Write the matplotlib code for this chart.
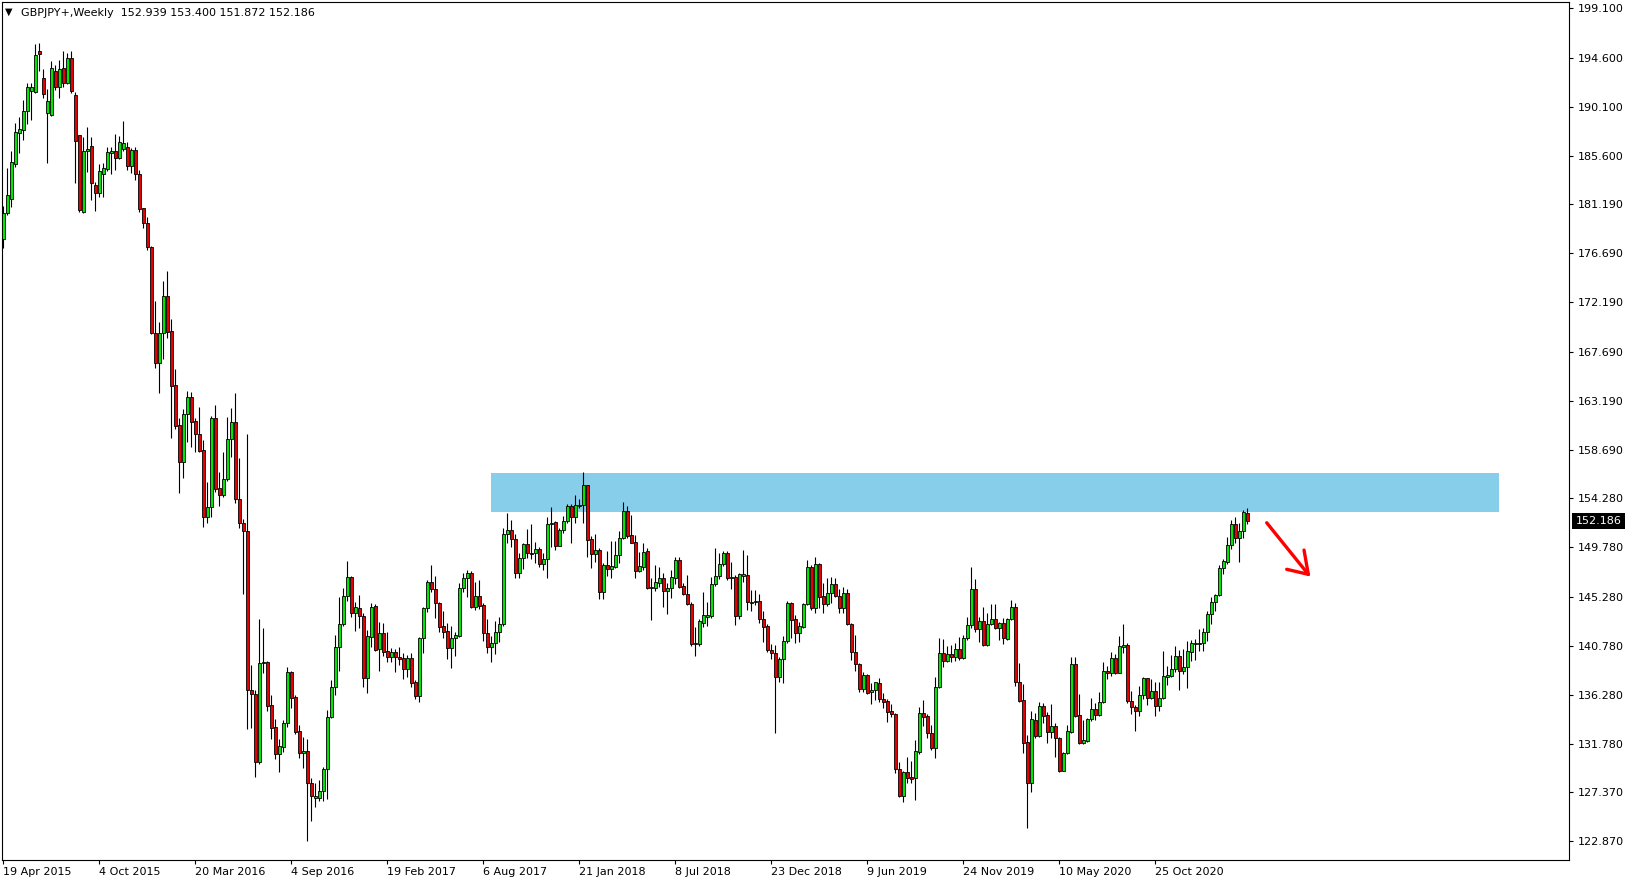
import matplotlib
matplotlib.use('Agg')
import matplotlib.pyplot as plt
import matplotlib.transforms as mtransforms
from matplotlib.patches import Rectangle

# ---------------- data (GBPJPY weekly candles) ----------------
opens = [
    177.96, 180.40, 181.62, 184.82, 187.66, 187.97, 189.73, 191.57, 191.47, 195.19,
    192.69, 189.49, 189.31, 193.36, 191.93, 193.61, 192.24, 194.52, 191.17, 187.48,
    180.49, 186.01, 186.47, 182.93, 182.23, 183.94, 184.37, 185.89, 186.04, 185.43,
    186.20, 186.38, 184.70, 186.14, 183.91, 180.80, 179.43, 177.29, 169.42, 166.62,
    169.36, 172.78, 169.57, 164.60, 160.97, 157.56, 161.95, 163.50, 161.34, 160.15,
    158.69, 152.59, 153.50, 161.58, 155.18, 154.57, 156.00, 159.66, 161.28, 154.17,
    152.04, 151.30, 136.73, 136.33, 130.17, 139.23, 139.32, 135.35, 133.31, 130.84,
    131.54, 133.68, 138.40, 136.05, 132.97, 130.93, 131.14, 128.18, 126.87, 126.87,
    127.51, 129.47, 134.29, 136.97, 140.69, 142.73, 145.33, 147.10, 143.80, 144.26,
    143.53, 137.86, 141.61, 144.41, 140.45, 141.91, 140.30, 139.78, 140.17, 139.72,
    139.63, 138.62, 139.63, 137.43, 136.21, 141.46, 144.20, 146.58, 145.97, 144.66,
    142.58, 142.13, 140.54, 141.46, 141.70, 146.03, 146.95, 147.40, 144.35, 145.33,
    144.50, 141.91, 140.63, 140.99, 142.06, 142.73, 151.00, 151.37, 150.51, 147.40,
    148.77, 150.05, 149.29, 149.23, 149.60, 148.22, 148.68, 151.88, 152.07, 149.93,
    151.37, 152.19, 153.56, 152.59, 153.59, 153.65, 155.48, 150.51, 149.14, 149.54,
    145.72, 148.16, 147.77, 148.01, 149.08, 150.60, 153.11, 150.91, 150.24, 147.65,
    148.01, 149.45, 146.09, 146.09, 146.55, 146.95, 145.82, 146.03, 147.01, 148.62,
    146.24, 145.48, 144.60, 140.91, 140.91, 142.89, 143.44, 143.50, 146.40, 147.16,
    148.26, 149.23, 146.95, 147.10, 143.53, 147.19, 147.25, 144.72, 144.75, 144.87,
    143.22, 142.58, 140.39, 140.08, 137.95, 139.53, 141.21, 144.72, 143.19, 141.97,
    142.52, 144.59, 147.95, 144.26, 148.22, 145.33, 144.56, 145.57, 146.39, 145.33,
    144.20, 145.57, 142.76, 140.17, 139.07, 136.79, 138.10, 136.55, 136.73, 137.34,
    135.87, 135.72, 134.80, 134.53, 129.47, 127.06, 129.19, 128.73, 128.70, 131.08,
    134.59, 134.35, 132.76, 131.39, 136.97, 140.08, 139.41, 139.99, 139.71, 140.45,
    139.62, 141.45, 142.67, 145.94, 142.28, 143.07, 140.84, 142.73, 143.19, 142.37,
    142.83, 141.39, 143.19, 144.29, 137.43, 135.81, 131.94, 128.19, 133.98, 132.52,
    135.26, 134.44, 132.91, 133.43, 132.30, 129.34, 130.93, 132.91, 139.11, 134.44,
    131.91, 132.09, 134.04, 134.99, 134.44, 135.60, 138.46, 138.25, 139.62, 138.31,
    140.69, 140.85, 135.75, 135.14, 134.84, 136.27, 137.80, 135.97, 136.64, 135.29,
    135.97, 137.95, 138.04, 138.65, 139.84, 138.50, 138.80, 140.24, 140.91, 140.91,
    141.00, 142.00, 143.65, 144.75, 145.42, 147.86, 148.47, 149.99, 151.89, 150.67,
    151.28, 152.939,
]
highs = [
    181.01, 184.46, 186.07, 188.58, 189.12, 190.71, 192.24, 192.30, 195.83, 195.90,
    193.52, 191.69, 194.31, 193.91, 194.37, 195.22, 195.04, 195.22, 191.47, 187.48,
    187.29, 188.27, 187.29, 183.24, 184.85, 184.92, 186.38, 186.38, 187.60, 187.42,
    188.82, 186.90, 186.29, 186.38, 184.31, 180.86, 180.04, 177.35, 172.32, 170.37,
    174.15, 175.06, 170.67, 166.10, 161.58, 162.41, 164.08, 164.02, 161.58, 162.65,
    159.60, 155.79, 161.83, 162.80, 156.70, 158.53, 161.74, 162.56, 163.87, 157.92,
    152.34, 160.15, 139.01, 136.73, 143.22, 142.37, 139.40, 136.27, 134.04, 132.24,
    133.98, 138.80, 138.45, 136.27, 133.52, 132.39, 132.24, 128.64, 128.18, 128.49,
    129.71, 134.90, 137.64, 141.76, 145.27, 146.03, 148.53, 147.19, 144.81, 145.42,
    143.74, 142.22, 144.72, 144.57, 142.98, 142.83, 142.00, 140.60, 140.48, 140.63,
    140.08, 139.93, 140.08, 137.64, 141.61, 144.35, 146.79, 148.17, 147.16, 144.81,
    143.96, 142.83, 142.61, 142.07, 146.49, 147.40, 147.71, 147.62, 146.64, 146.79,
    144.72, 143.19, 141.67, 143.04, 143.44, 151.52, 152.89, 152.28, 151.00, 149.23,
    150.21, 151.43, 151.91, 150.30, 149.78, 149.29, 152.52, 153.44, 152.22, 151.52,
    152.65, 153.71, 153.74, 154.57, 154.20, 156.64, 155.50, 150.82, 151.00, 149.69,
    148.32, 149.47, 150.39, 150.39, 151.30, 153.96, 153.59, 152.74, 150.91, 149.32,
    150.21, 149.69, 146.95, 148.17, 148.01, 147.46, 146.49, 147.71, 148.93, 148.93,
    146.49, 147.25, 144.75, 142.52, 143.19, 145.73, 144.81, 147.10, 149.69, 149.23,
    149.45, 149.45, 148.47, 147.25, 147.40, 149.54, 149.08, 145.88, 145.88, 145.51,
    143.95, 142.76, 140.93, 140.84, 139.78, 141.67, 144.87, 144.81, 143.59, 142.98,
    144.72, 148.62, 148.16, 148.86, 148.38, 146.49, 147.00, 147.10, 146.94, 145.94,
    146.18, 145.94, 142.89, 141.76, 139.17, 138.40, 138.19, 137.40, 137.49, 137.79,
    136.42, 135.87, 135.44, 134.59, 130.17, 129.34, 130.62, 130.26, 132.15, 135.20,
    135.81, 134.53, 133.52, 137.95, 141.45, 141.39, 140.75, 140.84, 140.99, 141.54,
    141.76, 143.44, 147.95, 146.85, 143.44, 144.35, 143.80, 144.59, 144.59, 142.98,
    143.34, 143.34, 144.96, 144.66, 139.23, 137.24, 132.61, 134.80, 134.59, 135.66,
    135.50, 134.74, 135.44, 133.74, 132.46, 131.08, 133.52, 139.78, 139.78, 136.36,
    133.98, 134.13, 136.02, 135.50, 136.57, 139.32, 138.92, 140.23, 139.99, 141.67,
    142.77, 141.00, 136.64, 135.36, 137.12, 137.95, 137.86, 137.70, 137.49, 137.49,
    140.30, 138.92, 139.93, 140.75, 140.39, 140.45, 141.21, 141.30, 141.36, 142.31,
    142.43, 143.99, 145.21, 145.51, 148.17, 148.68, 150.76, 152.28, 152.53, 151.98,
    153.20, 153.400,
]
lows = [
    177.14, 180.19, 180.95, 184.61, 185.89, 187.05, 188.52, 188.88, 191.38, 193.39,
    190.86, 184.98, 189.25, 191.62, 190.92, 191.87, 192.17, 191.32, 183.15, 180.49,
    180.40, 184.15, 181.56, 180.58, 181.80, 181.87, 184.24, 183.94, 184.31, 185.28,
    186.07, 184.31, 184.00, 183.39, 180.50, 178.97, 176.99, 169.30, 166.22, 163.93,
    166.98, 168.96, 159.81, 160.58, 154.72, 156.15, 159.45, 158.99, 158.47, 158.53,
    151.61, 151.98, 152.52, 154.87, 153.59, 154.42, 155.88, 158.01, 153.80, 151.52,
    145.50, 133.19, 133.28, 128.79, 130.00, 138.31, 134.80, 132.21, 130.38, 129.25,
    131.08, 133.37, 135.05, 132.70, 130.47, 129.62, 122.94, 124.77, 126.05, 126.60,
    126.60, 126.72, 134.19, 136.27, 138.49, 142.61, 144.87, 143.43, 142.15, 142.37,
    137.03, 136.42, 140.69, 140.30, 138.50, 139.87, 139.26, 139.26, 138.41, 139.02,
    137.73, 137.95, 137.03, 135.90, 135.60, 140.08, 143.83, 145.73, 143.35, 142.07,
    141.46, 139.53, 138.71, 139.87, 141.61, 145.73, 145.27, 144.20, 144.05, 144.14,
    141.21, 140.08, 139.32, 139.99, 141.15, 142.61, 150.15, 149.78, 147.00, 146.94,
    147.77, 148.77, 148.68, 148.38, 147.95, 147.71, 146.94, 149.78, 149.54, 149.90,
    151.12, 151.98, 150.21, 151.98, 153.41, 151.98, 148.93, 147.92, 148.47, 145.02,
    145.02, 147.16, 146.94, 147.92, 148.38, 150.51, 150.67, 150.15, 147.01, 147.56,
    147.71, 145.94, 143.13, 145.82, 146.12, 144.35, 143.68, 145.18, 146.40, 146.03,
    145.42, 144.50, 140.78, 139.87, 140.78, 142.52, 142.61, 143.35, 146.27, 146.85,
    148.07, 146.79, 145.94, 142.67, 143.19, 146.64, 144.05, 143.98, 144.50, 142.89,
    141.15, 140.23, 139.56, 132.76, 137.49, 137.34, 141.00, 141.45, 141.06, 141.15,
    142.43, 144.50, 144.05, 143.80, 144.20, 143.74, 144.41, 144.72, 145.27, 143.74,
    143.74, 142.67, 139.47, 138.46, 136.57, 136.57, 136.36, 135.41, 135.81, 135.66,
    135.05, 133.83, 134.22, 129.10, 126.97, 126.51, 128.25, 128.19, 126.66, 130.84,
    133.43, 132.30, 131.24, 130.47, 136.88, 138.86, 139.32, 139.32, 139.38, 139.47,
    139.56, 141.30, 142.37, 142.06, 141.15, 140.75, 140.75, 142.67, 142.31, 141.30,
    140.90, 141.30, 143.13, 137.12, 135.60, 130.93, 124.07, 127.36, 132.30, 132.46,
    133.68, 131.91, 132.30, 130.63, 129.25, 129.31, 130.87, 132.76, 134.29, 131.78,
    131.78, 132.00, 133.92, 133.98, 134.35, 135.50, 137.70, 138.01, 138.19, 138.25,
    140.08, 135.51, 134.53, 133.01, 134.35, 135.87, 135.36, 135.91, 134.38, 134.84,
    135.87, 137.19, 137.95, 138.40, 136.73, 138.19, 136.94, 139.41, 139.47, 140.33,
    140.33, 141.24, 142.77, 143.96, 145.36, 147.34, 148.23, 149.63, 150.21, 148.47,
    150.60, 151.872,
]
closes = [
    180.40, 182.02, 185.01, 187.75, 188.03, 189.70, 191.87, 191.93, 194.83, 194.89,
    191.23, 190.62, 193.61, 191.93, 193.52, 192.30, 194.52, 191.57, 186.99, 180.65,
    186.01, 186.23, 183.15, 182.23, 184.18, 184.49, 185.95, 186.04, 185.43, 186.84,
    186.75, 184.70, 186.14, 183.91, 180.74, 179.43, 177.23, 169.42, 166.62, 169.36,
    172.78, 169.51, 164.54, 160.91, 157.56, 161.98, 163.50, 161.28, 160.12, 158.62,
    152.59, 153.44, 161.58, 155.12, 154.57, 156.00, 159.66, 161.28, 154.17, 152.04,
    151.30, 136.73, 136.33, 130.17, 139.23, 139.32, 135.29, 133.28, 130.84, 131.60,
    133.68, 138.40, 136.02, 132.91, 130.93, 131.14, 128.18, 127.03, 127.03, 127.51,
    129.47, 134.29, 136.97, 140.69, 142.73, 145.33, 147.10, 143.80, 144.35, 143.53,
    137.79, 141.67, 144.29, 140.39, 141.91, 140.24, 139.78, 140.17, 139.72, 139.60,
    138.62, 139.63, 137.40, 136.21, 141.46, 144.20, 146.58, 145.94, 144.66, 142.52,
    142.07, 140.54, 141.46, 141.76, 146.03, 146.95, 147.40, 144.35, 145.33, 144.44,
    141.91, 140.63, 140.99, 142.06, 142.73, 151.00, 151.37, 150.51, 147.40, 148.77,
    150.05, 149.23, 149.20, 149.60, 148.22, 148.68, 151.88, 152.04, 149.93, 151.37,
    152.19, 153.56, 152.59, 153.65, 153.65, 155.48, 150.45, 149.14, 149.54, 145.72,
    148.16, 147.77, 148.07, 149.08, 150.60, 153.10, 150.85, 150.21, 147.65, 148.07,
    149.32, 146.09, 146.18, 146.58, 146.95, 145.82, 146.03, 147.10, 148.62, 146.18,
    145.48, 144.57, 140.91, 141.06, 143.04, 143.59, 143.59, 146.40, 147.16, 148.26,
    149.23, 146.95, 147.10, 143.53, 147.31, 147.31, 144.75, 144.81, 144.87, 143.19,
    142.52, 140.39, 140.08, 137.95, 139.53, 141.21, 144.72, 143.13, 141.97, 142.58,
    144.59, 147.95, 144.20, 148.22, 145.27, 144.56, 145.57, 146.39, 145.33, 144.20,
    145.57, 142.76, 140.17, 139.07, 136.79, 138.10, 136.48, 136.70, 137.43, 135.87,
    135.66, 134.74, 134.50, 129.47, 127.06, 129.19, 128.64, 128.58, 131.17, 134.59,
    134.29, 132.76, 131.39, 136.97, 140.08, 139.41, 139.99, 139.71, 140.45, 139.62,
    141.45, 142.67, 145.94, 142.28, 143.04, 140.84, 142.73, 143.19, 142.37, 142.83,
    141.45, 143.19, 144.29, 137.43, 135.75, 131.91, 128.25, 134.04, 132.52, 135.26,
    134.38, 132.91, 133.43, 132.30, 129.31, 130.93, 132.97, 139.11, 134.38, 131.91,
    132.15, 134.04, 134.96, 134.44, 135.60, 138.46, 138.25, 139.62, 138.31, 140.75,
    140.85, 135.75, 135.14, 134.84, 136.27, 137.80, 135.97, 136.64, 135.29, 135.97,
    138.01, 138.10, 138.65, 139.84, 138.50, 138.80, 140.30, 141.00, 141.06, 141.06,
    142.00, 143.68, 144.75, 145.42, 147.86, 148.53, 149.99, 151.89, 150.67, 151.28,
    152.98, 152.186,
]

date_labels = ['19 Apr 2015', '4 Oct 2015', '20 Mar 2016', '4 Sep 2016', '19 Feb 2017',
               '6 Aug 2017', '21 Jan 2018', '8 Jul 2018', '23 Dec 2018', '9 Jun 2019',
               '24 Nov 2019', '10 May 2020', '25 Oct 2020']
bars_per_label = 24
price_ticks = [199.100, 194.600, 190.100, 185.600, 181.190, 176.690, 172.190, 167.690,
               163.190, 158.690, 154.280, 149.780, 145.280, 140.780, 136.280, 131.780,
               127.370, 122.870]
header_symbol = 'GBPJPY+,Weekly'

# resistance zone (price band) and its bar span
zone_low, zone_high = 153.04, 156.61
zone_first_bar, zone_last_bar = 121.9, 373.9
# hand-drawn red arrow (bar position, price)
arrow_tail = (315.85, 152.03)
arrow_tip = (326.25, 147.31)
arrow_barbs = [(325.18, 149.53), (320.85, 147.77)]

# ---------------- styling ----------------
UP = '#00e600'
DOWN = '#e60000'
ZONE = '#87ceeb'
FONT = 'DejaVu Sans'
FS = 8

W, H = 1633, 884
fig = plt.figure(figsize=(W / 100, H / 100), dpi=100)
fig.patch.set_facecolor('white')
ax = fig.add_axes([2 / W, 24 / H, 1567 / W, 858 / H])
ax.set_facecolor('white')

n = len(closes)
ax.set_xlim(-0.325, 391.425)
ax.set_ylim(121.17, 199.68)

# zone
ax.add_patch(Rectangle((zone_first_bar, zone_low), zone_last_bar - zone_first_bar,
                       zone_high - zone_low, facecolor=ZONE, edgecolor='none', zorder=1))

# candles
xs = list(range(n))
ax.vlines(xs, lows, highs, color='black', linewidth=0.8, zorder=2)
body_w = 0.66
for i, (o, c) in enumerate(zip(opens, closes)):
    col = UP if c >= o else DOWN
    h = max(abs(c - o), 0.05)
    ax.add_patch(Rectangle((i - body_w / 2, min(o, c)), body_w, h, facecolor=col,
                           edgecolor='black', linewidth=0.6, zorder=3))

# red arrow
ax.plot([arrow_tail[0], arrow_tip[0]], [arrow_tail[1], arrow_tip[1]], color='#ff0000',
        linewidth=2.4, solid_capstyle='round', zorder=5)
for bx, by in arrow_barbs:
    ax.plot([bx, arrow_tip[0]], [by, arrow_tip[1]], color='#ff0000', linewidth=2.4,
            solid_capstyle='round', zorder=5)

# axes / ticks
for s in ax.spines.values():
    s.set_color('black')
    s.set_linewidth(0.8)
ax.yaxis.tick_right()
ax.set_yticks(price_ticks)
ax.set_yticklabels([f'{v:.3f}' for v in price_ticks], fontfamily=FONT)
ax.tick_params(axis='y', direction='out', length=3, width=0.8, pad=3, labelsize=FS,
               colors='black')
ax.set_xticks([k * bars_per_label for k in range(len(date_labels))])
ax.set_xticklabels(date_labels, ha='left', fontfamily=FONT)
ax.tick_params(axis='x', direction='out', length=3, width=0.8, pad=2, labelsize=FS,
               colors='black')

# last price marker
trans = mtransforms.blended_transform_factory(ax.transAxes, ax.transData)
ax.text(1 + 6.5 / 1567, closes[-1], f'{closes[-1]:.3f}', transform=trans, ha='left',
        va='center', color='white', fontsize=FS, fontfamily=FONT, clip_on=False,
        bbox=dict(boxstyle='square,pad=0.3', facecolor='black', edgecolor='none'))

# header
fig.text(5 / W, 1 - 12 / H, '\u25bc', fontsize=7, fontfamily=FONT, va='center', ha='left')
fig.text(21 / W, 1 - 13 / H,
         f'{header_symbol}  {opens[-1]:.3f} {highs[-1]:.3f} {lows[-1]:.3f} {closes[-1]:.3f}',
         fontsize=FS, fontfamily=FONT, va='center', ha='left')

fig.savefig('out.png', dpi=100, facecolor='white')
